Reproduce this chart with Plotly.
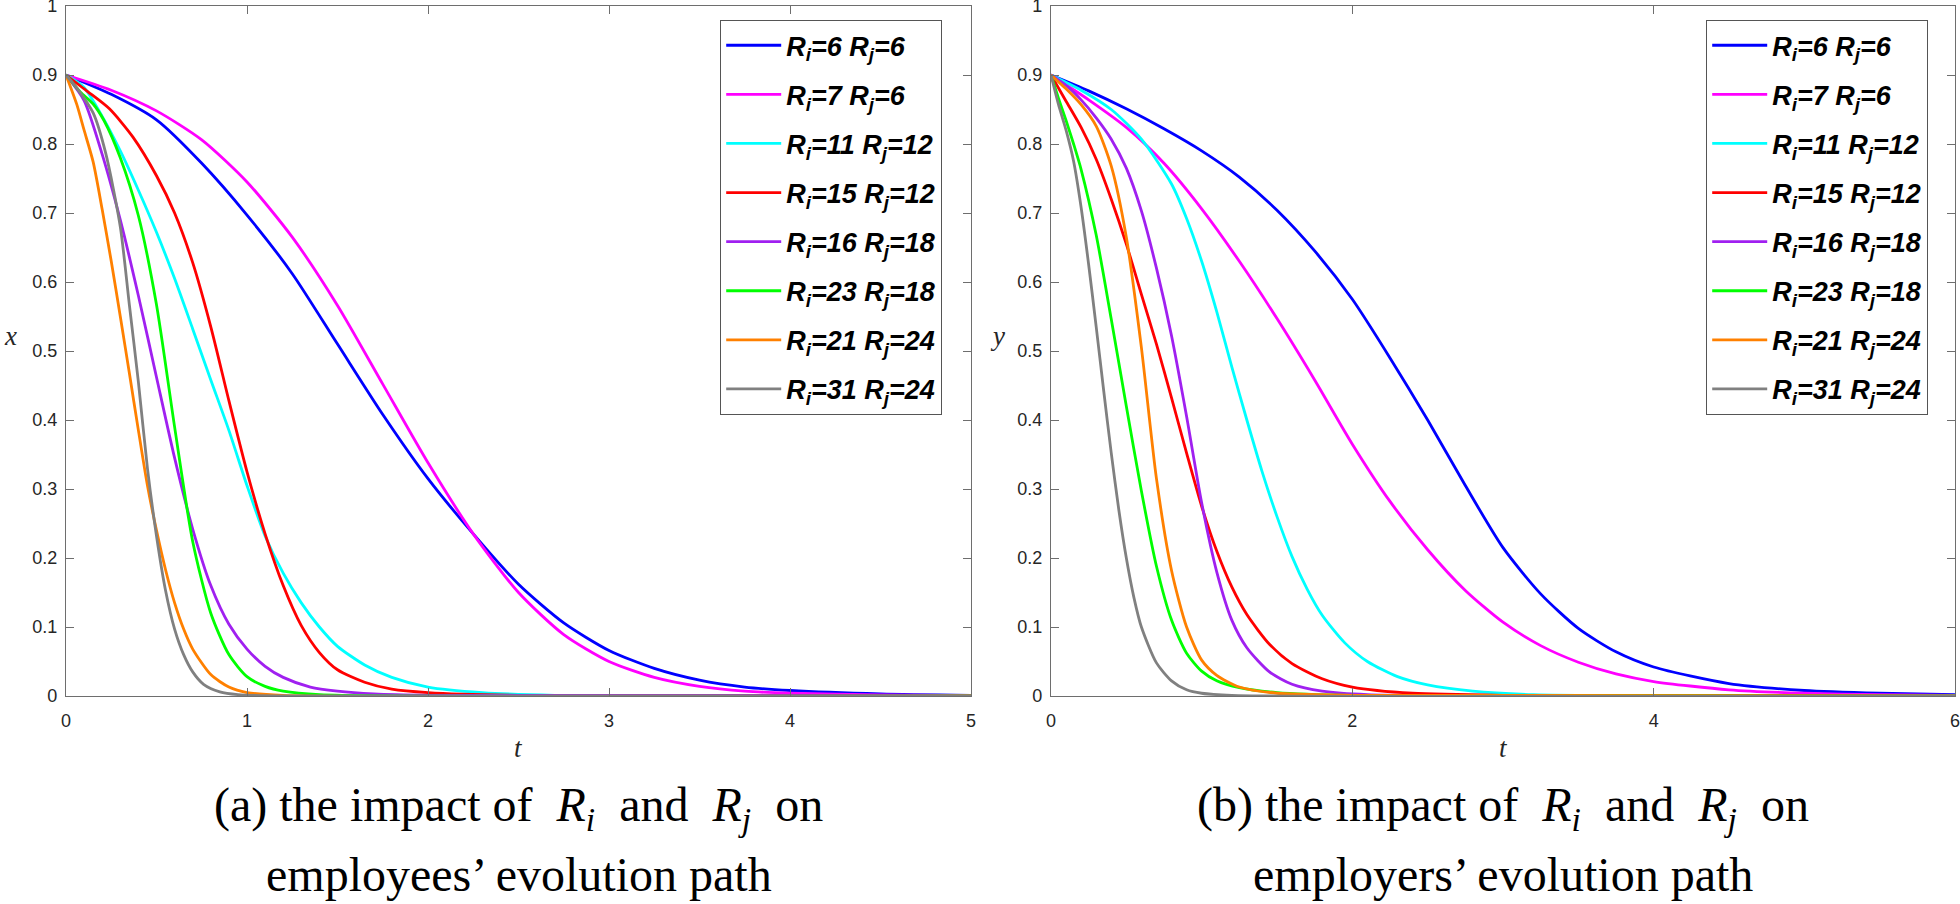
import plotly.graph_objects as go

# ---------------- data ----------------
names = ["R<sub>i</sub>=6 R<sub>j</sub>=6", "R<sub>i</sub>=7 R<sub>j</sub>=6",
         "R<sub>i</sub>=11 R<sub>j</sub>=12", "R<sub>i</sub>=15 R<sub>j</sub>=12",
         "R<sub>i</sub>=16 R<sub>j</sub>=18", "R<sub>i</sub>=23 R<sub>j</sub>=18",
         "R<sub>i</sub>=21 R<sub>j</sub>=24", "R<sub>i</sub>=31 R<sub>j</sub>=24"]
colors = ["#0000FF", "#FF00FF", "#00FFFF", "#FF0000",
          "#A020F0", "#00FF00", "#FF8000", "#808080"]

# panel (a): employees, x(t)
a_blue_t = [0, 0.25, 0.5, 0.75, 1.0, 1.25, 1.5, 1.75, 2.0, 2.25, 2.5, 2.75, 3.0, 3.25, 3.5, 3.75, 4.0, 4.5, 5.0]
a_blue_v = [0.9, 0.872, 0.835, 0.772, 0.697, 0.612, 0.51, 0.408, 0.315, 0.235, 0.162, 0.106, 0.066, 0.04, 0.023, 0.013, 0.008, 0.003, 0.001]
a_mag_t = [0, 0.25, 0.5, 0.75, 1.0, 1.25, 1.5, 1.75, 2.0, 2.25, 2.5, 2.75, 3.0, 3.25, 3.5, 3.75, 4.0, 4.5, 5.0]
a_mag_v = [0.9, 0.878, 0.848, 0.806, 0.745, 0.665, 0.566, 0.452, 0.338, 0.235, 0.15, 0.089, 0.05, 0.027, 0.014, 0.007, 0.004, 0.0015, 0.0005]
a_cyan_t = [0, 0.1, 0.2, 0.3, 0.4, 0.5, 0.6, 0.7, 0.8, 0.9, 1.0, 1.1, 1.2, 1.3, 1.4, 1.5, 1.65, 1.8, 2.0, 2.3, 2.7, 3.5, 5.0]
a_cyan_v = [0.9, 0.882, 0.84, 0.79, 0.733, 0.672, 0.605, 0.532, 0.458, 0.385, 0.305, 0.232, 0.178, 0.135, 0.1, 0.072, 0.045, 0.027, 0.013, 0.005, 0.001, 0.0002, 0.0]
a_red_t = [0, 0.12, 0.24, 0.37, 0.5, 0.6, 0.7, 0.8, 0.9, 1.0, 1.1, 1.2, 1.3, 1.4, 1.5, 1.65, 1.8, 2.0, 2.5, 5.0]
a_red_v = [0.9, 0.876, 0.851, 0.81, 0.754, 0.7, 0.628, 0.535, 0.428, 0.325, 0.235, 0.16, 0.102, 0.063, 0.038, 0.02, 0.01, 0.005, 0.001, 0.0]
a_pur_t = [0, 0.1, 0.2, 0.3, 0.4, 0.5, 0.6, 0.7, 0.8, 0.9, 1.0, 1.1, 1.2, 1.35, 1.5, 1.7, 2.0, 5.0]
a_pur_v = [0.9, 0.863, 0.785, 0.69, 0.58, 0.462, 0.345, 0.242, 0.16, 0.104, 0.068, 0.043, 0.027, 0.013, 0.007, 0.003, 0.001, 0.0]
a_grn_t = [0, 0.08, 0.15, 0.21, 0.3, 0.4, 0.5, 0.6, 0.7, 0.8, 0.9, 1.0, 1.1, 1.2, 1.4, 5.0]
a_grn_v = [0.9, 0.875, 0.858, 0.834, 0.78, 0.696, 0.567, 0.39, 0.224, 0.12, 0.06, 0.028, 0.014, 0.007, 0.002, 0.0]
a_org_t = [0, 0.06, 0.1, 0.15, 0.2, 0.25, 0.3, 0.35, 0.4, 0.45, 0.5, 0.55, 0.6, 0.65, 0.7, 0.8, 0.9, 1.0, 1.2, 5.0]
a_org_v = [0.9, 0.857, 0.82, 0.774, 0.705, 0.63, 0.55, 0.468, 0.385, 0.305, 0.24, 0.183, 0.135, 0.097, 0.068, 0.031, 0.013, 0.005, 0.001, 0.0]
a_gry_t = [0, 0.06, 0.15, 0.22, 0.3, 0.35, 0.4, 0.45, 0.5, 0.55, 0.6, 0.65, 0.7, 0.76, 0.85, 0.95, 1.2, 5.0]
a_gry_v = [0.9, 0.881, 0.845, 0.786, 0.68, 0.567, 0.455, 0.33, 0.232, 0.153, 0.097, 0.06, 0.035, 0.017, 0.006, 0.002, 0.0, 0.0]

# panel (b): employers, y(t)
b_blue_t = [0, 0.25, 0.5, 0.75, 1.0, 1.25, 1.5, 1.75, 2.0, 2.25, 2.5, 2.75, 3.0, 3.25, 3.5, 3.75, 4.0, 4.5, 5.0, 5.5, 6.0]
b_blue_v = [0.9, 0.877, 0.851, 0.822, 0.79, 0.752, 0.704, 0.645, 0.575, 0.49, 0.4, 0.305, 0.215, 0.148, 0.098, 0.064, 0.042, 0.018, 0.008, 0.004, 0.002]
b_mag_t = [0, 0.25, 0.5, 0.75, 1.0, 1.25, 1.5, 1.75, 2.0, 2.25, 2.5, 2.75, 3.0, 3.25, 3.5, 3.75, 4.0, 4.5, 5.0, 5.5, 6.0]
b_mag_v = [0.9, 0.864, 0.824, 0.772, 0.706, 0.63, 0.547, 0.458, 0.365, 0.282, 0.212, 0.153, 0.107, 0.073, 0.049, 0.032, 0.021, 0.009, 0.004, 0.002, 0.001]
b_cyan_t = [0, 0.2, 0.4, 0.6, 0.8, 0.9, 1.0, 1.1, 1.2, 1.3, 1.4, 1.5, 1.6, 1.7, 1.8, 1.95, 2.1, 2.3, 2.5, 2.8, 3.2, 4.0, 6.0]
b_cyan_v = [0.9, 0.878, 0.85, 0.807, 0.742, 0.692, 0.63, 0.557, 0.477, 0.4, 0.326, 0.26, 0.202, 0.155, 0.117, 0.077, 0.05, 0.028, 0.016, 0.007, 0.002, 0.0003, 0.0]
b_red_t = [0, 0.1, 0.2, 0.3, 0.4, 0.5, 0.6, 0.7, 0.8, 0.9, 1.0, 1.1, 1.2, 1.3, 1.45, 1.6, 1.8, 2.0, 2.4, 3.0, 6.0]
b_red_v = [0.9, 0.862, 0.824, 0.778, 0.72, 0.655, 0.582, 0.51, 0.432, 0.352, 0.275, 0.21, 0.158, 0.118, 0.075, 0.047, 0.025, 0.013, 0.004, 0.001, 0.0]
b_pur_t = [0, 0.1, 0.2, 0.3, 0.4, 0.5, 0.6, 0.7, 0.8, 0.9, 1.0, 1.1, 1.2, 1.3, 1.45, 1.6, 1.8, 2.1, 6.0]
b_pur_v = [0.9, 0.885, 0.864, 0.838, 0.807, 0.765, 0.703, 0.62, 0.522, 0.405, 0.28, 0.18, 0.11, 0.07, 0.035, 0.017, 0.007, 0.002, 0.0]
b_grn_t = [0, 0.05, 0.1, 0.15, 0.2, 0.3, 0.4, 0.5, 0.6, 0.7, 0.8, 0.9, 1.0, 1.1, 1.25, 1.5, 2.0, 6.0]
b_grn_v = [0.9, 0.866, 0.834, 0.8, 0.763, 0.668, 0.546, 0.42, 0.297, 0.188, 0.11, 0.062, 0.036, 0.022, 0.012, 0.005, 0.001, 0.0]
b_org_t = [0, 0.1, 0.2, 0.3, 0.4, 0.5, 0.6, 0.7, 0.8, 0.9, 1.0, 1.1, 1.25, 1.5, 2.0, 6.0]
b_org_v = [0.9, 0.88, 0.857, 0.826, 0.768, 0.665, 0.505, 0.315, 0.182, 0.1, 0.052, 0.03, 0.013, 0.004, 0.001, 0.0]
b_gry_t = [0, 0.05, 0.1, 0.15, 0.2, 0.25, 0.3, 0.35, 0.4, 0.45, 0.5, 0.55, 0.6, 0.7, 0.8, 0.9, 1.0, 1.2, 6.0]
b_gry_v = [0.9, 0.857, 0.82, 0.775, 0.708, 0.625, 0.535, 0.442, 0.352, 0.27, 0.2, 0.143, 0.1, 0.048, 0.022, 0.009, 0.004, 0.001, 0.0]

a_series = [(a_blue_t, a_blue_v), (a_mag_t, a_mag_v), (a_cyan_t, a_cyan_v), (a_red_t, a_red_v),
            (a_pur_t, a_pur_v), (a_grn_t, a_grn_v), (a_org_t, a_org_v), (a_gry_t, a_gry_v)]
b_series = [(b_blue_t, b_blue_v), (b_mag_t, b_mag_v), (b_cyan_t, b_cyan_v), (b_red_t, b_red_v),
            (b_pur_t, b_pur_v), (b_grn_t, b_grn_v), (b_org_t, b_org_v), (b_gry_t, b_gry_v)]

y_ticks = [0, 0.1, 0.2, 0.3, 0.4, 0.5, 0.6, 0.7, 0.8, 0.9, 1]
y_ticktext = ["0", "0.1", "0.2", "0.3", "0.4", "0.5", "0.6", "0.7", "0.8", "0.9", "1"]
a_xticks = [0, 1, 2, 3, 4, 5]
b_xticks = [0, 2, 4, 6]

# ---------------- figure ----------------
W, H = 1960, 904
fig = go.Figure()

for k, (t, v) in enumerate(a_series):
    fig.add_trace(go.Scatter(x=t, y=v, mode="lines", name="<b><i>" + names[k] + "</i></b>",
                             line=dict(color=colors[k], width=2.8, shape="spline", smoothing=0.7),
                             xaxis="x", yaxis="y", legend="legend", legendgroup="a%d" % k))
for k, (t, v) in enumerate(b_series):
    fig.add_trace(go.Scatter(x=t, y=v, mode="lines", name="<b><i>" + names[k] + "</i></b>",
                             line=dict(color=colors[k], width=2.8, shape="spline", smoothing=0.7),
                             xaxis="x2", yaxis="y2", legend="legend2", legendgroup="b%d" % k))

def px_x(p):
    return p / W

def px_y(p):
    return 1 - p / H

axis_common = dict(showline=True, linecolor="#6e6e6e", linewidth=1.3, mirror="ticks",
                   ticks="inside", ticklen=8, tickwidth=1.2, tickcolor="#6e6e6e",
                   showgrid=False, zeroline=False, ticklabeloverflow="allow", automargin=False,
                   tickfont=dict(family="Liberation Sans, Arial", size=18, color="#262626"))

ydom = [px_y(696), px_y(6)]
fig.update_layout(
    template="none",
    width=W, height=H, margin=dict(l=0, r=0, t=0, b=0, autoexpand=False),
    paper_bgcolor="white", plot_bgcolor="white", showlegend=True,
    xaxis=dict(domain=[px_x(66), px_x(971)], range=[0, 5], tickvals=a_xticks, anchor="y",
               ticklabelstandoff=8, **axis_common),
    yaxis=dict(domain=ydom, range=[0, 1], tickvals=y_ticks, ticktext=y_ticktext, anchor="x",
               ticklabelstandoff=4, **axis_common),
    xaxis2=dict(domain=[px_x(1051), px_x(1955)], range=[0, 6.0001], tickvals=b_xticks, anchor="y2",
                ticklabelstandoff=8, **axis_common),
    yaxis2=dict(domain=ydom, range=[0, 1], tickvals=y_ticks, ticktext=y_ticktext, anchor="x2",
                ticklabelstandoff=4, **axis_common),
)

legend_common = dict(bgcolor="white", bordercolor="#555555", borderwidth=1.2,
                     font=dict(family="Liberation Sans, Arial", size=27, color="#000000"),
                     tracegroupgap=11, itemwidth=55, xanchor="left", yanchor="top",
                     itemclick=False, itemdoubleclick=False)
fig.update_layout(
    legend=dict(x=px_x(720), y=px_y(20), **legend_common),
    legend2=dict(x=px_x(1706), y=px_y(20), **legend_common),
)

serif = "Liberation Serif, Times New Roman, serif"
notes = [
    (px_x(10), px_y(336), "<i>x</i>", 27),
    (px_x(997), px_y(336), "<i>y</i>", 27),
    (px_x(518.5), px_y(748), "<i>t</i>", 27),
    (px_x(1503), px_y(748), "<i>t</i>", 27),
]
for x, y, txt, s in notes:
    fig.add_annotation(x=x, y=y, xref="paper", yref="paper", text=txt, showarrow=False,
                       font=dict(family=serif, size=s, color="#262626"), xanchor="center", yanchor="middle")

sp = "\u00a0"
Ri = "<i>R</i><sub><i>i</i></sub>"
Rj = "<i>R</i><sub><i>j</i></sub>"
captions = [
    (px_x(518.5), "(a) the impact of" + sp * 2 + Ri + sp * 2 + "and" + sp * 2 + Rj + sp * 2 + "on",
     "employees\u2019 evolution path"),
    (px_x(1503), "(b) the impact of" + sp * 2 + Ri + sp * 2 + "and" + sp * 2 + Rj + sp * 2 + "on",
     "employers\u2019 evolution path"),
]
for x, l1, l2 in captions:
    fig.add_annotation(x=x, y=px_y(808), xref="paper", yref="paper", text=l1, showarrow=False,
                       font=dict(family=serif, size=48, color="#000000"), xanchor="center", yanchor="middle")
    fig.add_annotation(x=x, y=px_y(874), xref="paper", yref="paper", text=l2, showarrow=False,
                       font=dict(family=serif, size=48, color="#000000"), xanchor="center", yanchor="middle")

# remove the browser's default 8px body margin so the figure sits at the window origin
fig.write_html("out.html", config={"displayModeBar": False},
               post_script="document.body.style.margin='0';document.body.style.overflow='hidden';")
